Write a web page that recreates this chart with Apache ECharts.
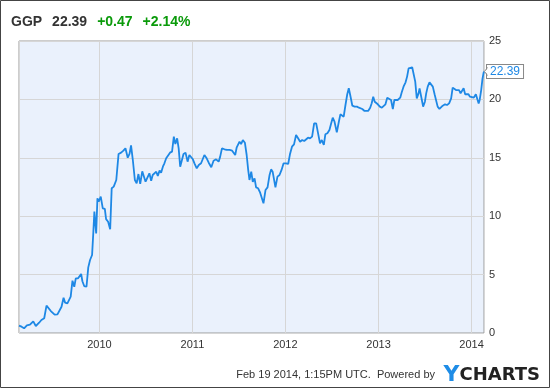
<!DOCTYPE html>
<html>
<head>
<meta charset="utf-8">
<script src="https://cdn.jsdelivr.net/npm/echarts@6/dist/echarts.min.js"></script>
<style>
html,body{margin:0;padding:0;background:#fff;}
#c{width:550px;height:388px;}
</style>
</head>
<body>
<div id="c"></div>
<script>
const ticker = "GGP";
const lastPrice = "22.39";
const change = "+0.47";
const changePct = "+2.14%";
const footerText = "Feb 19 2014, 1:15PM UTC.  Powered by";
const yTicks = [0, 5, 10, 15, 20, 25];
const xStart = "2009-02-19";
const xEnd = "2014-02-19";

const dates = [
"2009-02-19","2009-03-01","2009-03-11","2009-03-22","2009-04-03","2009-04-10","2009-04-16","2009-04-26","2009-05-09","2009-05-18",
"2009-05-29","2009-06-07","2009-06-14","2009-06-24","2009-06-30","2009-07-09","2009-07-20","2009-07-27","2009-08-05","2009-08-13",
"2009-08-19","2009-08-28","2009-09-04","2009-09-10","2009-09-17","2009-09-24","2009-09-30","2009-10-09","2009-10-15","2009-10-21",
"2009-10-26","2009-11-02","2009-11-11","2009-11-18","2009-11-25","2009-12-03","2009-12-08","2009-12-12","2009-12-19","2009-12-24",
"2009-12-29",
"2010-01-06","2010-01-14","2010-01-22","2010-01-27","2010-02-04","2010-02-12","2010-02-18","2010-02-26","2010-03-08","2010-03-17",
"2010-03-27","2010-04-05","2010-04-13","2010-04-22","2010-04-29","2010-05-05","2010-05-12","2010-05-20","2010-05-27","2010-06-03",
"2010-06-10","2010-06-18","2010-06-24","2010-07-01","2010-07-07","2010-07-16","2010-07-23","2010-07-29","2010-08-05","2010-08-12",
"2010-08-18","2010-08-25","2010-08-31","2010-09-07","2010-09-13","2010-09-20","2010-09-26","2010-10-05","2010-10-13","2010-10-20",
"2010-10-26","2010-11-02","2010-11-08","2010-11-14","2010-11-19","2010-11-27","2010-12-05","2010-12-13","2010-12-20","2010-12-27",
"2011-01-02","2011-01-09","2011-01-18","2011-01-26","2011-02-04","2011-02-17","2011-02-26","2011-03-06","2011-03-16","2011-03-25",
"2011-04-04","2011-04-14","2011-04-20","2011-04-27","2011-05-07","2011-05-16","2011-05-27","2011-06-06","2011-06-12","2011-06-18",
"2011-06-24","2011-07-05","2011-07-11","2011-07-18","2011-07-26","2011-08-02","2011-08-08","2011-08-13","2011-08-20","2011-08-26",
"2011-09-02","2011-09-08","2011-09-16","2011-09-24","2011-09-29","2011-10-07","2011-10-15","2011-10-23","2011-10-31","2011-11-06",
"2011-11-12","2011-11-23","2011-12-01","2011-12-09","2011-12-17","2011-12-25",
"2012-01-04","2012-01-12","2012-01-19","2012-01-27","2012-02-04","2012-02-12","2012-02-20","2012-02-28","2012-03-07","2012-03-15",
"2012-03-22","2012-03-30","2012-04-07","2012-04-15","2012-04-23","2012-05-01","2012-05-08","2012-05-16","2012-05-23","2012-05-31",
"2012-06-06","2012-06-14","2012-06-22","2012-06-29","2012-07-05","2012-07-12","2012-07-21","2012-07-29","2012-08-04","2012-08-11",
"2012-08-17","2012-08-24","2012-08-31","2012-09-06","2012-09-13","2012-09-20","2012-09-29","2012-10-08","2012-10-16","2012-10-22",
"2012-10-29","2012-11-07","2012-11-13","2012-11-21","2012-11-29","2012-12-05","2012-12-11","2012-12-17","2012-12-22","2012-12-29",
"2013-01-06","2013-01-14","2013-01-21","2013-01-28","2013-02-04","2013-02-11","2013-02-19","2013-02-26","2013-03-04","2013-03-11",
"2013-03-17","2013-03-27","2013-04-02","2013-04-09","2013-04-17","2013-04-23","2013-04-29","2013-05-06","2013-05-13","2013-05-19",
"2013-05-25","2013-05-31","2013-06-07","2013-06-11","2013-06-16","2013-06-20","2013-06-25","2013-07-02","2013-07-07","2013-07-13",
"2013-07-20","2013-07-26","2013-08-02","2013-08-09","2013-08-15","2013-08-21","2013-08-28","2013-09-03","2013-09-10","2013-09-19",
"2013-09-27","2013-10-05","2013-10-13","2013-10-19","2013-10-26","2013-11-01","2013-11-08","2013-11-13","2013-11-19","2013-11-25",
"2013-12-01","2013-12-07","2013-12-13","2013-12-20","2013-12-26",
"2014-01-02","2014-01-10","2014-01-18","2014-01-24","2014-01-29","2014-02-02","2014-02-08","2014-02-13","2014-02-17","2014-02-19"
];

const prices = [
0.63,0.54,0.40,0.66,0.71,0.66,1.00,0.60,0.88,1.11,
1.26,2.34,2.30,1.88,1.77,1.57,1.60,1.74,2.25,3.02,
2.60,2.54,2.40,3.11,4.48,3.96,4.68,4.68,4.62,5.05,
4.43,4.02,3.96,5.62,6.25,6.68,8.67,10.39,8.53,11.53,
11.24,
11.67,10.67,10.62,9.75,9.53,8.88,12.39,12.53,13.10,15.33,
15.44,15.61,15.81,15.01,15.33,16.07,14.81,13.10,12.82,13.61,
12.76,13.84,13.90,12.95,12.87,13.67,13.04,13.53,13.53,13.81,
13.44,13.90,13.72,14.24,14.53,14.96,14.87,15.44,15.53,16.81,
16.18,16.67,15.81,14.24,14.19,15.33,15.44,14.67,15.24,15.10,
14.90,14.53,14.10,14.38,14.53,15.24,14.96,14.58,14.19,14.75,
14.87,14.67,15.10,15.81,15.73,15.67,15.67,15.61,15.67,15.24,
15.90,16.38,16.18,16.52,16.29,15.24,13.96,13.10,13.81,12.95,
13.24,12.47,12.39,12.01,12.10,11.10,12.24,12.47,13.53,14.01,
13.81,12.47,13.39,13.53,13.96,14.53,
14.53,14.47,15.30,15.95,16.15,16.95,16.67,16.38,16.52,16.44,
16.33,16.72,16.67,16.81,17.95,17.95,17.95,16.24,16.52,16.10,
17.01,17.10,17.38,17.95,18.43,18.09,17.18,18.09,18.72,18.60,
18.52,19.52,20.44,20.95,20.23,19.46,19.38,19.38,19.29,19.38,
19.18,19.01,18.90,19.01,19.29,19.67,20.23,19.80,19.86,19.58,
19.38,19.29,19.38,19.58,20.15,20.09,19.95,19.18,19.95,20.03,
19.95,20.15,20.61,21.09,21.46,21.95,22.66,22.75,22.75,22.75,
21.52,20.09,20.52,20.95,21.01,19.95,19.38,19.80,20.52,21.09,
21.46,21.58,21.09,20.44,20.38,19.38,19.18,19.01,19.46,19.58,
19.52,19.66,20.09,21.01,21.18,20.80,20.66,20.80,20.52,20.52,
20.95,20.44,20.38,20.44,20.23,
20.38,20.15,20.44,20.01,19.66,19.95,20.80,21.75,22.23,22.39
];

const seriesData = dates.map((d, i) => [d, prices[i]]);
const DAY = 24 * 3600 * 1000;
const FONT = 'Liberation Sans, Arial, sans-serif';

const borderRect = {
  type: 'rect',
  shape: {x: 0.5, y: 0.5, width: 549, height: 387},
  style: {fill: 'none', stroke: '#444444', lineWidth: 1},
  silent: true
};

const chart = echarts.init(document.getElementById('c'), null, {renderer: 'canvas'});
chart.setOption({
  animation: false,
  backgroundColor: '#ffffff',
  textStyle: {fontFamily: FONT},
  title: [{
    left: 11, top: 13, padding: 0,
    text: '{t|' + ticker + '}  {t|' + lastPrice + '}  {g|' + change + '}  {g|' + changePct + '}',
    textStyle: {
      rich: {
        t: {fontSize: 14, fontWeight: 'bold', color: '#333333', fontFamily: FONT},
        g: {fontSize: 14, fontWeight: 'bold', color: '#0a9a0a', fontFamily: FONT}
      }
    }
  }, {
    right: 115, top: 369, padding: 0,
    text: footerText,
    textStyle: {fontSize: 11, fontWeight: 'normal', color: '#333333', fontFamily: FONT}
  }, {
    right: 10, top: 364, padding: 0,
    text: '{y|Y}{c|CHARTS}',
    textStyle: {
      rich: {
        y: {fontSize: 22, fontWeight: 'bold', color: '#1e8ce6', fontFamily: 'DejaVu Sans, sans-serif'},
        c: {fontSize: 18, fontWeight: 'bold', color: '#222222', fontFamily: 'DejaVu Sans, sans-serif'}
      }
    }
  }],
  grid: {
    left: 19, right: 66, top: 41, bottom: 55,
    show: true,
    backgroundColor: '#eaf1fc',
    borderColor: '#9a9a9a',
    borderWidth: 1
  },
  xAxis: {
    type: 'time',
    min: xStart,
    max: xEnd,
    minInterval: 365 * DAY,
    maxInterval: 366 * DAY,
    axisLine: {show: false},
    axisTick: {show: false},
    splitLine: {show: true, lineStyle: {color: '#d6d6d6', width: 1}},
    axisLabel: {
      color: '#333333', fontSize: 11, margin: 6,
      formatter: (v) => String(new Date(v).getFullYear())
    }
  },
  yAxis: {
    type: 'value',
    position: 'right',
    min: yTicks[0],
    max: yTicks[yTicks.length - 1],
    interval: 5,
    axisLine: {show: false},
    axisTick: {show: false},
    splitLine: {show: true, lineStyle: {color: '#d6d6d6', width: 1}},
    axisLabel: {color: '#333333', fontSize: 11, margin: 5, align: 'left'}
  },
  series: [{
    type: 'line',
    data: seriesData,
    showSymbol: false,
    symbol: 'none',
    lineStyle: {color: '#1e88e5', width: 1.8},
    endLabel: {
      show: true,
      formatter: () => lastPrice,
      color: '#1e88e5',
      fontSize: 12,
      backgroundColor: '#ffffff',
      borderColor: '#888888',
      borderWidth: 1,
      padding: [1, 3, 0, 3],
      distance: 3
    }
  }],
  graphic: [borderRect]
});

// small callout pointer on the left side of the end label, placed from the last data point
const lastPt = chart.convertToPixel({gridIndex: 0}, seriesData[seriesData.length - 1]);
const bx = lastPt[0] + 3.5;
chart.setOption({
  graphic: [borderRect, {
    type: 'polygon',
    z: 100,
    shape: {points: [[bx + 1, lastPt[1] - 4], [lastPt[0] + 0.5, lastPt[1]], [bx + 1, lastPt[1] + 4]]},
    style: {fill: '#ffffff', stroke: null},
    silent: true
  }, {
    type: 'polyline',
    z: 101,
    shape: {points: [[bx, lastPt[1] - 4], [lastPt[0] + 0.5, lastPt[1]], [bx, lastPt[1] + 4]]},
    style: {fill: null, stroke: '#888888', lineWidth: 1},
    silent: true
  }]
});
</script>
</body>
</html>
